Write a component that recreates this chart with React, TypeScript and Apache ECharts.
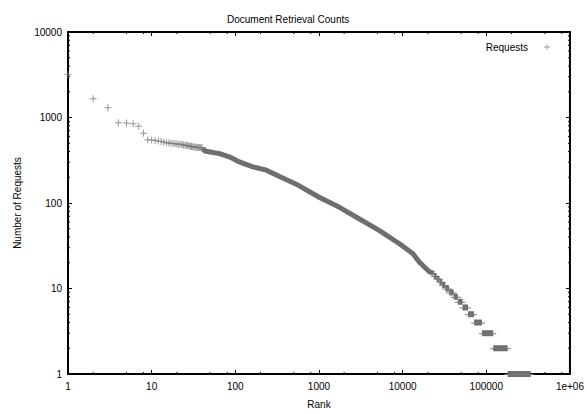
import React, { useEffect, useRef } from "react";
import * as echarts from "echarts";

// Individually visible points (rank, number of requests)
const headRanks = [1, 2, 3, 4, 5, 6, 7, 8, 9, 10, 11, 12, 13, 14, 15, 16, 17, 18, 19, 20, 21, 22, 23, 24, 25, 26, 27, 28, 29, 30, 31, 32, 33, 34, 35, 36, 37, 38, 39, 40];
const headCounts = [3160, 1660, 1300, 870, 865, 845, 790, 655, 550, 545, 540, 532, 525, 515, 508, 503, 500, 497, 494, 491, 488, 485, 482, 478, 475, 472, 469, 466, 462, 459, 456, 453, 451, 449, 447, 446, 445, 444, 443, 442];

// Dense band (points so close they merge)
const bandRanks = [41, 43, 50, 65, 86, 112, 162, 235, 338, 535, 1016, 1760, 3050, 5290, 9160, 13200, 15800, 21000, 23600];
const bandCounts = [440, 405, 395, 378, 345, 302, 265, 242, 204, 166, 116, 89, 65, 47.6, 33.4, 25.7, 20.4, 15.6, 15];

// Integer tail: runs of equal counts
const runCounts = [14, 13, 12, 11, 10, 9, 8, 7, 6, 5, 4, 3, 2, 1];
const runStart = [23600, 25500, 27500, 29700, 32400, 36000, 40800, 45600, 52000, 60500, 71500, 89000, 121000, 180000];
const runEnd = [25500, 27500, 29700, 32400, 36000, 40800, 45600, 52000, 60500, 71500, 89000, 121000, 180000, 340000];

// Minor tick multipliers
const xMinorMult = [2, 5, 8];
const yMinorMult = [2, 3, 4, 5, 6, 7, 8, 9];
const xDecades = [1, 10, 100, 1000, 10000, 100000];
const yDecades = [1, 10, 100, 1000];

const FONT = "'Liberation Sans', Arial, Helvetica, sans-serif";
const MARK = "#7a7a7a";
const BAND = "#6e6e6e";
const PLUS = "path://M3,0 L4,0 L4,3 L7,3 L7,4 L4,4 L4,7 L3,7 L3,4 L0,4 L0,3 L3,3 Z";

export default function App() {
  const ref = useRef<HTMLDivElement>(null);
  useEffect(() => {
    if (!ref.current) return;
    const chart = echarts.init(ref.current, undefined, { renderer: "svg" });

    const headData = headRanks.map((r, i) => [r, headCounts[i]]);
    const bandData = bandRanks.map((r, i) => [r, bandCounts[i]]);
    const runData = runCounts.map((c, i) => [runStart[i], runEnd[i], c]);
    const xMinor: number[][] = [];
    xDecades.forEach((d) => xMinorMult.forEach((m) => xMinor.push([d * m, 1])));
    const yMinor: number[][] = [];
    yDecades.forEach((d) => yMinorMult.forEach((m) => yMinor.push([1, d * m])));

    const fmt = (v: number) => {
      const r = Math.round(v);
      return r === 1000000 ? "1e+06" : String(r);
    };

    chart.setOption({
      animation: false,
      backgroundColor: "#fff",
      title: {
        text: "Document Retrieval Counts",
        left: 222,
        top: 9,
        textStyle: { fontSize: 10, fontWeight: "normal", color: "#000", fontFamily: FONT },
      },
      legend: {
        data: ["Requests"],
        right: 32,
        top: 37,
        align: "right",
        icon: PLUS,
        itemWidth: 6,
        itemHeight: 6,
        textStyle: { fontSize: 10, color: "#000", fontFamily: FONT, padding: [0, 11, 0, 0] },
      },
      grid: {
        left: 68,
        right: 16,
        top: 32,
        bottom: 38,
        show: true,
        borderColor: "#000",
        borderWidth: 2,
        backgroundColor: "transparent",
      },
      xAxis: [
        {
          type: "log",
          logBase: 10,
          min: 1,
          max: 1000000,
          splitNumber: 6,
          name: "Rank",
          nameLocation: "middle",
          nameGap: 25,
          nameTextStyle: { fontSize: 10, color: "#000", fontFamily: FONT },
          axisLine: { show: false },
          axisTick: { inside: true, length: 4, lineStyle: { color: "#000", width: 1 } },
          axisLabel: { margin: 7, fontSize: 10, color: "#000", fontFamily: FONT, formatter: fmt },
          splitLine: { show: false },
        },
        {
          type: "log",
          logBase: 10,
          min: 1,
          max: 1000000,
          splitNumber: 6,
          position: "top",
          axisLine: { show: false },
          axisTick: { inside: true, length: 4, lineStyle: { color: "#000", width: 1 } },
          axisLabel: { show: false },
          splitLine: { show: false },
        },
      ],
      yAxis: [
        {
          type: "log",
          logBase: 10,
          min: 1,
          max: 10000,
          splitNumber: 4,
          name: "Number of Requests",
          nameLocation: "middle",
          nameGap: 46,
          nameTextStyle: { fontSize: 10, color: "#000", fontFamily: FONT },
          axisLine: { show: false },
          axisTick: { inside: true, length: 4, lineStyle: { color: "#000", width: 1 } },
          axisLabel: { margin: 6, fontSize: 10, color: "#000", fontFamily: FONT, formatter: fmt },
          splitLine: { show: false },
        },
        {
          type: "log",
          logBase: 10,
          min: 1,
          max: 10000,
          splitNumber: 4,
          position: "right",
          axisLine: { show: false },
          axisTick: { inside: true, length: 4, lineStyle: { color: "#000", width: 1 } },
          axisLabel: { show: false },
          splitLine: { show: false },
        },
      ],
      series: [
        {
          name: "minorX",
          type: "custom",
          data: xMinor,
          silent: true,
          renderItem: (params: any, api: any) => {
            const x = api.coord([api.value(0), 1])[0];
            const cs = params.coordSys;
            return {
              type: "group",
              children: [
                { type: "line", shape: { x1: x, y1: cs.y + cs.height, x2: x, y2: cs.y + cs.height - 2 }, style: { stroke: "#000", lineWidth: 1 } },
                { type: "line", shape: { x1: x, y1: cs.y, x2: x, y2: cs.y + 2 }, style: { stroke: "#000", lineWidth: 1 } },
              ],
            };
          },
        },
        {
          name: "minorY",
          type: "custom",
          data: yMinor,
          silent: true,
          renderItem: (params: any, api: any) => {
            const y = api.coord([1, api.value(1)])[1];
            const cs = params.coordSys;
            return {
              type: "group",
              children: [
                { type: "line", shape: { x1: cs.x, y1: y, x2: cs.x + 2, y2: y }, style: { stroke: "#000", lineWidth: 1 } },
                { type: "line", shape: { x1: cs.x + cs.width, y1: y, x2: cs.x + cs.width - 2, y2: y }, style: { stroke: "#000", lineWidth: 1 } },
              ],
            };
          },
        },
        {
          name: "band",
          type: "line",
          data: bandData,
          showSymbol: false,
          symbol: "none",
          lineStyle: { color: BAND, width: 5 },
          z: 3,
        },
        {
          name: "runs",
          type: "custom",
          data: runData,
          encode: { x: [0, 1], y: 2 },
          z: 3,
          renderItem: (params: any, api: any) => {
            const p1 = api.coord([api.value(0), api.value(2)]);
            const p2 = api.coord([api.value(1), api.value(2)]);
            return {
              type: "group",
              children: [
                { type: "rect", shape: { x: p1[0], y: p1[1] - 3, width: Math.max(1, p2[0] - p1[0]), height: 6 }, style: { fill: BAND } },
                { type: "line", shape: { x1: p1[0] - 3, y1: p1[1] + 0.5, x2: p2[0] + 3, y2: p1[1] + 0.5 }, style: { stroke: MARK, lineWidth: 1 } },
              ],
            };
          },
        },
        {
          name: "Requests",
          type: "scatter",
          data: headData,
          symbol: PLUS,
          symbolSize: 7,
          itemStyle: { color: MARK },
          z: 4,
        },
      ],
    });
    return () => chart.dispose();
  }, []);
  return <div ref={ref} style={{ width: 587, height: 414, position: "absolute", left: 0, top: 0 }} />;
}
